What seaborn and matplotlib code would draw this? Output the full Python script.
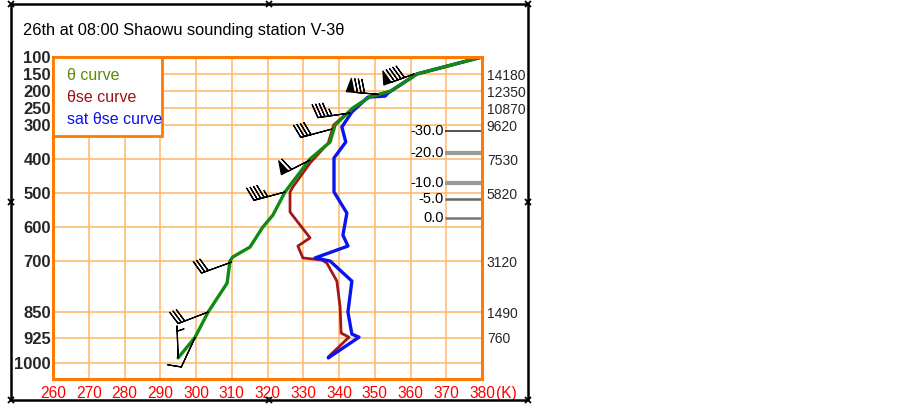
import numpy as np
import pandas as pd
import matplotlib
matplotlib.use("Agg")
import matplotlib.pyplot as plt
from matplotlib.lines import Line2D
from matplotlib.patches import Rectangle
import seaborn as sns

# ---------------- data ----------------
theta_p = [100, 150, 200, 218, 250, 300, 350, 400, 497, 565, 600, 659, 688, 700, 765, 850, 925, 985]
theta_k = [380, 361.8, 354.5, 348.5, 343.9, 338.9, 337.5, 331.9, 324.9, 321.5, 318.7, 315.1, 310.3, 309.5, 308.7, 303.4, 299.7, 295.0]

thse_p = [100, 150, 200, 218, 250, 300, 353, 412, 482, 497, 556, 632, 656, 691, 697, 706, 759, 835, 912, 924, 982]
thse_k = [380, 361.8, 354.5, 348.5, 343.9, 338.5, 337.0, 331.9, 327.1, 326.3, 326.3, 331.9, 328.5, 329.9, 335.2, 336.6, 339.4, 340.3, 340.6, 342.8, 337.0]

sat_p = [100, 150, 206, 215, 218, 262, 306, 350, 397, 497, 559, 624, 656, 691, 700, 759, 850, 915, 924, 985]
sat_k = [380, 361.8, 353.7, 352.9, 348.1, 343.6, 340.8, 341.9, 338.6, 338.6, 342.2, 341.1, 342.5, 333.3, 337.5, 343.6, 342.5, 343.6, 345.6, 337.0]

# wind barbs (on the theta curve)
barb_p = [150, 210, 265, 312, 403, 497, 703, 850, 926, 985]
barb_k = [361.0, 351.0, 343.0, 338.0, 331.9, 324.9, 310.0, 303.4, 299.7, 295.0]
barb_speed = [36, 32, 18, 16, 24, 18, 12, 12, 4, 2]          # m/s
barb_dir_below_west = [20, -5, 8, 15, 27, 15, 20, 21, 65, -88]  # staff angle, degrees below west

pressure_ticks = [100, 150, 200, 250, 300, 400, 500, 600, 700, 850, 925, 1000]
height_p = [150, 200, 250, 300, 400, 500, 700, 850, 925]
height_m = ["14180", "12350", "10870", "9620", "7530", "5820", "3120", "1490", "760"]
temp_levels = ["-30.0", "-20.0", "-10.0", "-5.0", "0.0"]
temp_level_p = [318, 382, 471, 518, 574]
x_ticks = list(range(260, 390, 10))
x_labels = [str(v) for v in x_ticks]
x_unit = "(K)"

legend_labels = ["θ curve", "θse curve", "sat θse curve"]
title = "26th at 08:00 Shaowu sounding station V-3θ"

# ---------------- style ----------------
sns.set_style("white")
plt.rcParams["font.family"] = ["Liberation Sans", "DejaVu Sans"]

W, H = 903, 405
fig = plt.figure(figsize=(W / 100, H / 100), dpi=100)

def fx(px):
    return px / W

def fy(py):
    return 1 - py / H

L, R, T, B = 53, 482, 57, 379
ax = fig.add_axes([fx(L), fy(B), fx(R) - fx(L), fy(T) - fy(B)])

ORANGE = "#FF7A00"
GRID = "#FFB766"
GREEN = "#128A12"
DRED = "#A01818"
BLUE = "#0A14F0"

ax.set_xlim(260, 380)
ax.set_ylim(1047, 100)

# grid
for xv in x_ticks[1:-1]:
    ax.axvline(xv, color=GRID, lw=1.1, zorder=0)
for pv in pressure_ticks[1:]:
    ax.axhline(pv, color=GRID, lw=1.1, zorder=0)

df_theta = pd.DataFrame({"K": theta_k, "p": theta_p})
df_thse = pd.DataFrame({"K": thse_k, "p": thse_p})
df_sat = pd.DataFrame({"K": sat_k, "p": sat_p})

sns.lineplot(data=df_thse, x="K", y="p", sort=False, estimator=None, color=DRED, lw=2.0, ax=ax, zorder=3)
sns.lineplot(data=df_sat, x="K", y="p", sort=False, estimator=None, color=BLUE, lw=2.4, ax=ax, zorder=4)
sns.lineplot(data=df_theta, x="K", y="p", sort=False, estimator=None, color=GREEN, lw=2.4, ax=ax, zorder=5)

# wind barbs
ang = np.deg2rad(np.array(barb_dir_below_west))
spd = np.array(barb_speed, dtype=float)
u = spd * np.cos(ang)
v = spd * np.sin(ang)
ax.barbs(barb_k, barb_p, u, v, length=6.8, lw=0.9, color="black",
         barb_increments=dict(half=2, full=4, flag=20),
         sizes=dict(spacing=0.11, height=0.42, width=0.24), zorder=6)

# temperature level markers
temp_colors = ["#333333", "#9A9A9A", "#9A9A9A", "#666666", "#777777"]
temp_lw = [1.2, 3.0, 3.0, 1.8, 1.8]
for lab, pv, c, w in zip(temp_levels, temp_level_p, temp_colors, temp_lw):
    ax.hlines(pv, 369.6, 380, colors=c, lw=w, zorder=2)
    ax.text(369.3, pv, lab, ha="right", va="center", fontsize=10.5, color="black", zorder=2)

# axes styling
ax.set_xlabel("")
ax.set_ylabel("")
ax.set_xticks(x_ticks)
ax.set_xticklabels(x_labels, color="red", fontsize=11.2)
ax.set_yticks(pressure_ticks)
ax.set_yticklabels([str(p) for p in pressure_ticks], fontsize=12, fontweight="bold")
ax.tick_params(axis="both", length=0)
ax.tick_params(axis="x", pad=5)
ax.tick_params(axis="y", pad=1.5)
for s in ax.spines.values():
    s.set_color(ORANGE)
    s.set_linewidth(2.2)
    s.set_zorder(7)

# unit right after the last x label
ax.annotate(x_unit, xy=(1.0, 0.0), xycoords="axes fraction", xytext=(10, -5),
            textcoords="offset points", ha="left", va="top", color="red", fontsize=11.2)

ax2 = ax.twinx()
ax2.set_ylim(1047, 100)
ax2.set_yticks(height_p)
ax2.set_yticklabels(height_m, fontsize=10)
ax2.tick_params(axis="y", length=0, pad=3.5)
for s in ax2.spines.values():
    s.set_visible(False)

# legend box
ax.add_patch(Rectangle((0, 1 - (136 - T) / (B - T)), (162 - L) / (R - L), (136 - T) / (B - T),
                       transform=ax.transAxes, facecolor="white", edgecolor=ORANGE, lw=2.0, zorder=8))
leg_colors = ["#5F8A00", "#A01010", "#0A14F0"]
leg_y = [76, 98, 120]
for lab, c, yy in zip(legend_labels, leg_colors, leg_y):
    ax.text((67 - L) / (R - L), 1 - (yy - T) / (B - T), lab, transform=ax.transAxes,
            color=c, fontsize=11.5, ha="left", va="center", zorder=9)

# title
fig.text(fx(23), fy(30), title, fontsize=11.8, ha="left", va="center", color="black")

# outer frame with markers
fl, fr, ft, fb = 11, 528, 4, 400
fig.add_artist(Line2D([fx(fl), fx(fr), fx(fr), fx(fl), fx(fl)],
                      [fy(ft), fy(ft), fy(fb), fy(fb), fy(ft)],
                      transform=fig.transFigure, color="black", lw=1.8))
mx = [fl, (fl + fr) / 2, fr, fl, fr, fl, (fl + fr) / 2, fr]
my = [ft, ft, ft, (ft + fb) / 2, (ft + fb) / 2, fb, fb, fb]
fig.add_artist(Line2D([fx(a) for a in mx], [fy(b) for b in my], transform=fig.transFigure,
                      ls="none", marker="x", ms=5, mew=1.3, color="black"))

fig.savefig("out.png", dpi=100)
